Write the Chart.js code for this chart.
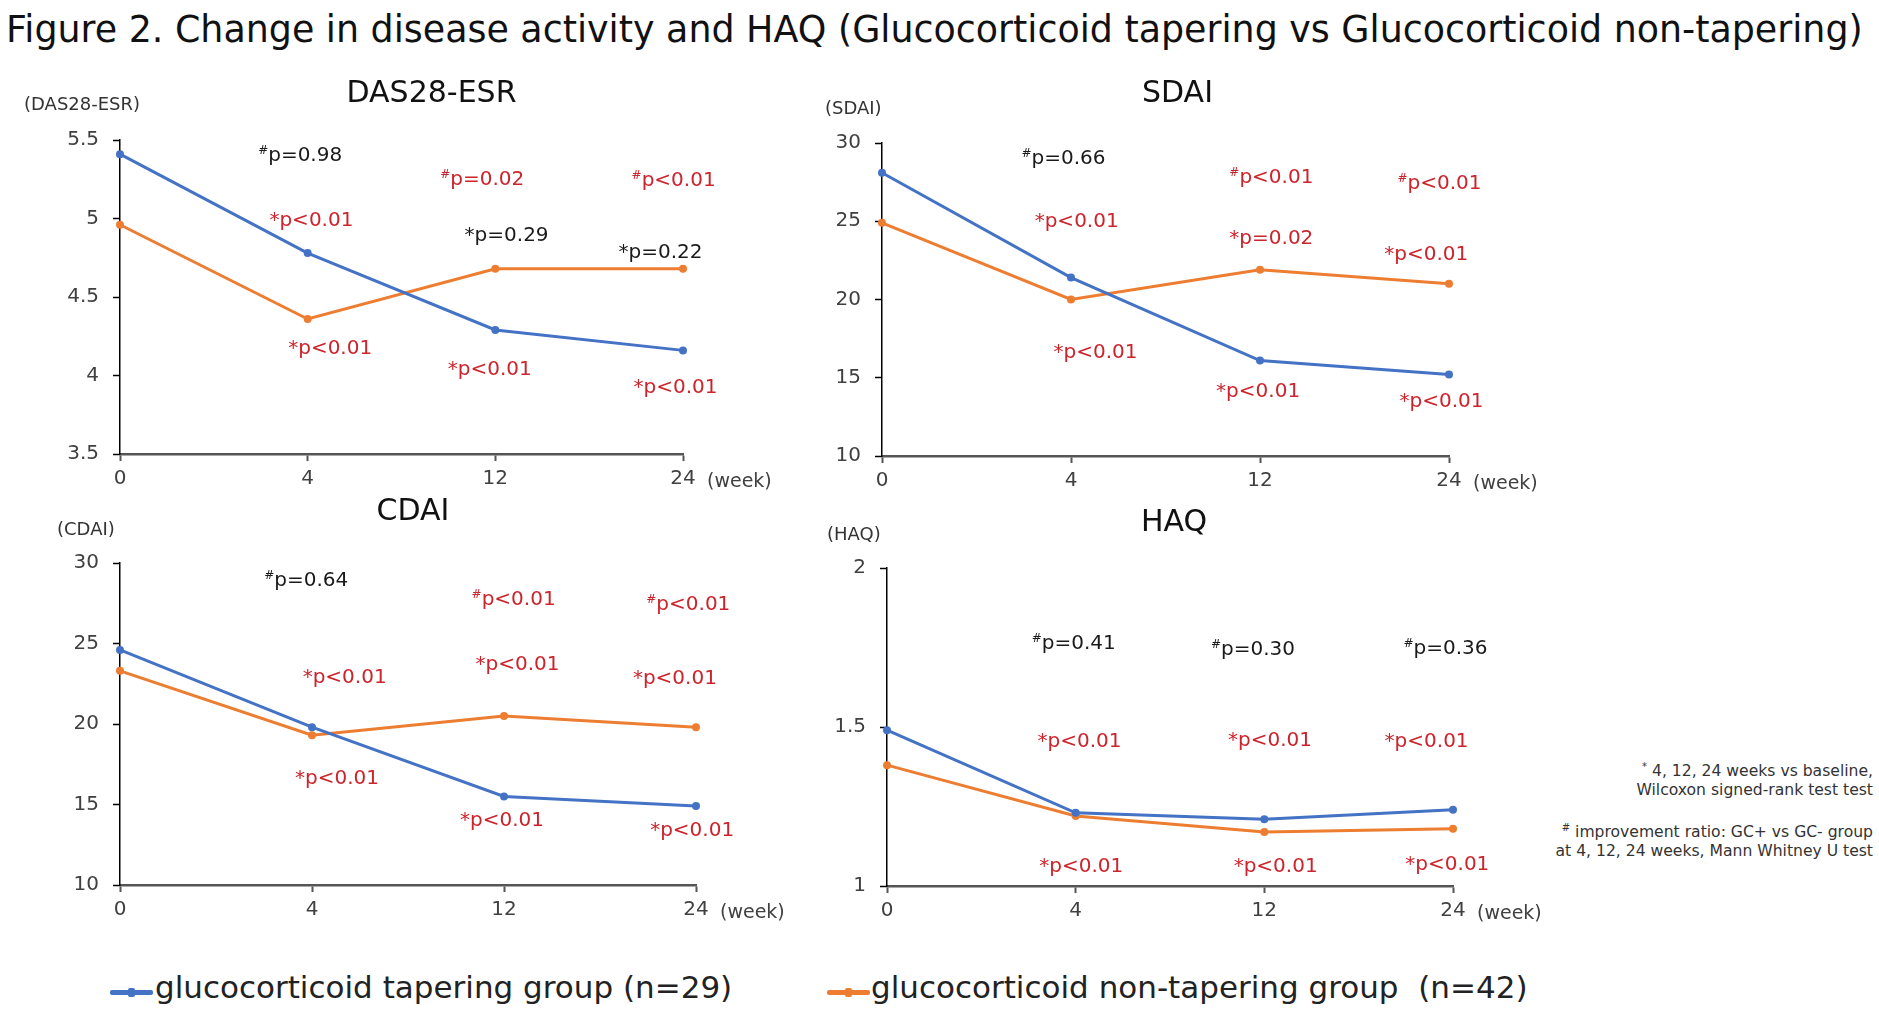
<!DOCTYPE html>
<html lang="en">
<head>
  <meta charset="UTF-8">
  <title>Figure 2 - disease activity and HAQ</title>
  <style>
body {
  margin: 0;
  background: #fff;
  font-family: "DejaVu Sans", sans-serif;
}

.page {
  position: relative;
  width: 1879px;
  height: 1023px;
  overflow: hidden;
}

.page canvas { position: absolute; }

.fig-title {
  position: absolute;
  left: 6px;
  top: 12px;
  font-size: 36.4px;
  line-height: 1;
  white-space: nowrap;
  color: #111;
}

.legend-item {
  position: absolute;
  top: 972px;
  font-size: 31px;
  line-height: 1;
  white-space: nowrap;
  color: #222;
}

.legend-mark {
  position: absolute;
  top: 990px;
  width: 43px;
  height: 5px;
  border-radius: 2px;
}
.legend-mark::after {
  content: "";
  position: absolute;
  left: 18px;
  top: -2px;
  width: 7px;
  height: 9px;
  background: inherit;
  border-radius: 2px;
}

.foot {
  position: absolute;
  right: 6px;
  top: 757px;
  font-size: 15.6px;
  line-height: 19px;
  text-align: right;
  color: #333;
}
.foot p { margin: 0 0 18px 0; }
.foot sup { font-size: 10px; }
  </style>
</head>
<body>

<div class="page" id="page">
  <div class="fig-title">Figure 2. Change in disease activity and HAQ (Glucocorticoid tapering vs Glucocorticoid non-tapering)</div>

  <div class="legend-mark" style="left:110px; background:#4472c4;"></div>
  <div class="legend-item" style="left:155px;">glucocorticoid tapering group (n=29)</div>
  <div class="legend-mark" style="left:827px; background:#ed7d31;"></div>
  <div class="legend-item" style="left:871px;">glucocorticoid non-tapering group&nbsp; (n=42)</div>

  <div class="foot">
    <p><sup>*</sup> 4, 12, 24 weeks vs baseline,<br>Wilcoxon signed-rank test test</p>
    <p><sup>#</sup> improvement ratio: GC+ vs GC- group<br>at 4, 12, 24 weeks, Mann Whitney U test</p>
  </div>
</div>

<script src="https://cdn.jsdelivr.net/npm/chart.js"></script>
<script>
// ---- data ----
const weeks = ['0', '4', '12', '24'];

const das28Taper    = [5.41, 4.78, 4.29, 4.16];
const das28NonTaper = [4.96, 4.36, 4.68, 4.68];
const das28Ticks    = [3.5, 4, 4.5, 5, 5.5];

const sdaiTaper    = [28.1, 21.4, 16.1, 15.2];
const sdaiNonTaper = [24.9, 20.0, 21.9, 21.0];
const sdaiTicks    = [10, 15, 20, 25, 30];

const cdaiTaper    = [24.6, 19.8, 15.5, 14.9];
const cdaiNonTaper = [23.3, 19.3, 20.5, 19.8];
const cdaiTicks    = [10, 15, 20, 25, 30];

const haqTaper    = [1.49, 1.23, 1.21, 1.24];
const haqNonTaper = [1.38, 1.22, 1.17, 1.18];
const haqTicks    = [1, 1.5, 2];

// p-value notes: [week index, value, text]
const das28Notes = [
  [0.96, 5.41, '#p=0.98'], [1.93, 5.26, '#p=0.02'], [2.95, 5.25, '#p<0.01'],
  [1.02, 5.00, '*p<0.01'], [2.06, 4.90, '*p=0.29'], [2.88, 4.79, '*p=0.22'],
  [1.12, 4.18, '*p<0.01'], [1.97, 4.05, '*p<0.01'], [2.96, 3.93, '*p<0.01']
];
const sdaiNotes = [
  [0.96, 29.1, '#p=0.66'], [2.06, 27.9, '#p<0.01'], [2.95, 27.5, '#p<0.01'],
  [1.03, 25.1, '*p<0.01'], [2.06, 24.0, '*p=0.02'], [2.88, 23.0, '*p<0.01'],
  [1.13, 16.7, '*p<0.01'], [1.99, 14.2, '*p<0.01'], [2.96, 13.6, '*p<0.01']
];
const cdaiNotes = [
  [0.97, 29.0, '#p=0.64'], [2.05, 27.8, '#p<0.01'], [2.96, 27.5, '#p<0.01'],
  [1.17, 23.0, '*p<0.01'], [2.07, 23.8, '*p<0.01'], [2.89, 22.9, '*p<0.01'],
  [1.13, 16.7, '*p<0.01'], [1.99, 14.1, '*p<0.01'], [2.98, 13.5, '*p<0.01']
];
const haqNotes = [
  [0.99, 1.766, '#p=0.41'], [1.94, 1.748, '#p=0.30'], [2.96, 1.753, '#p=0.36'],
  [1.02, 1.458, '*p<0.01'], [2.03, 1.462, '*p<0.01'], [2.86, 1.460, '*p<0.01'],
  [1.03, 1.066, '*p<0.01'], [2.06, 1.066, '*p<0.01'], [2.97, 1.073, '*p<0.01']
];

// ---- layout of the four panels (plot area in page pixels) ----
const panels = [
  { title: 'DAS28-ESR', unit: '(DAS28-ESR)', taper: das28Taper, non: das28NonTaper, ticks: das28Ticks, notes: das28Notes,
    area: { l: 120, t: 140, r: 683, b: 454 }, titleDx: 30, titleDy: -38, unitDx: -96, unitDy: -30 },
  { title: 'SDAI', unit: '(SDAI)', taper: sdaiTaper, non: sdaiNonTaper, ticks: sdaiTicks, notes: sdaiNotes,
    area: { l: 882, t: 143, r: 1449, b: 456 }, titleDx: 12, titleDy: -41, unitDx: -57, unitDy: -29 },
  { title: 'CDAI', unit: '(CDAI)', taper: cdaiTaper, non: cdaiNonTaper, ticks: cdaiTicks, notes: cdaiNotes,
    area: { l: 120, t: 563, r: 696, b: 885 }, titleDx: 5, titleDy: -43, unitDx: -63, unitDy: -28 },
  { title: 'HAQ', unit: '(HAQ)', taper: haqTaper, non: haqNonTaper, ticks: haqTicks, notes: haqNotes,
    area: { l: 887, t: 568, r: 1453, b: 886 }, titleDx: 4, titleDy: -37, unitDx: -60, unitDy: -28 }
];

const BLUE = '#4472c4';
const ORANGE = '#ed7d31';
const RED = '#cc242c';
const BLACK = '#1a1a1a';
const FONT = '"DejaVu Sans", sans-serif';

const PAD_LEFT = 120, PAD_TOP = 110, PAD_RIGHT = 120, PAD_BOTTOM = 50;

// titles, unit label, "(week)" and the p-value notes
function panelText(p) {
  return {
    id: 'panelText',
    afterDatasetsDraw(chart) {
      const { ctx, chartArea: a, scales: { x, y } } = chart;
      ctx.save();
      ctx.textBaseline = 'alphabetic';

      ctx.fillStyle = '#111';
      ctx.font = '30px ' + FONT;
      ctx.textAlign = 'center';
      ctx.fillText(p.title, (a.left + a.right) / 2 + p.titleDx, a.top + p.titleDy);

      ctx.fillStyle = '#333';
      ctx.font = '18px ' + FONT;
      ctx.textAlign = 'left';
      ctx.fillText(p.unit, a.left + p.unitDx, a.top + p.unitDy);

      ctx.fillStyle = '#404040';
      ctx.font = '19px ' + FONT;
      ctx.textBaseline = 'middle';
      ctx.fillText('(week)', x.getPixelForValue(3) + 24, a.bottom + 28);

      ctx.textBaseline = 'alphabetic';
      ctx.textAlign = 'left';
      p.notes.forEach(([xi, v, txt]) => {
        const px = x.getPixelForValue(xi);
        const py = y.getPixelForValue(v);
        const mark = txt[0], rest = txt.slice(1);
        const small = mark === '#';
        ctx.font = (small ? '12px ' : '20px ') + FONT;
        const mw = ctx.measureText(mark).width;
        ctx.font = '20px ' + FONT;
        const rw = ctx.measureText(rest).width;
        const x0 = px - (mw + rw) / 2;
        const base = py + 7;
        ctx.fillStyle = /<|=0\.0/.test(rest) ? RED : BLACK;
        ctx.fillText(rest, x0 + mw, base);
        ctx.font = (small ? '12px ' : '20px ') + FONT;
        ctx.fillText(mark, x0, small ? base - 7 : base);
      });
      ctx.restore();
    }
  };
}

const page = document.getElementById('page');

panels.forEach(p => {
  const a = p.area;
  const w = (a.r - a.l) + PAD_LEFT + PAD_RIGHT;
  const h = (a.b - a.t) + PAD_TOP + PAD_BOTTOM;
  const cv = document.createElement('canvas');
  cv.width = w;
  cv.height = h;
  cv.style.left = (a.l - PAD_LEFT) + 'px';
  cv.style.top = (a.t - PAD_TOP) + 'px';
  cv.style.width = w + 'px';
  cv.style.height = h + 'px';
  page.appendChild(cv);

  const line = (data, color) => ({
    data: data,
    borderColor: color,
    backgroundColor: color,
    borderWidth: 3,
    pointRadius: 2.5,
    pointHoverRadius: 2.5,
    tension: 0,
    clip: false
  });

  new Chart(cv, {
    type: 'line',
    data: {
      labels: weeks,
      datasets: [line(p.taper, BLUE), line(p.non, ORANGE)]
    },
    options: {
      responsive: false,
      animation: false,
      devicePixelRatio: 1,
      layout: { padding: { left: 0, top: PAD_TOP, right: PAD_RIGHT, bottom: 0 } },
      plugins: { legend: { display: false }, tooltip: { enabled: false } },
      scales: {
        x: {
          offset: false,
          afterFit: s => { s.height = PAD_BOTTOM; },
          border: { color: '#555', width: 2.5 },
          grid: { drawOnChartArea: false, drawTicks: true, tickLength: 7, tickColor: '#555', tickWidth: 2 },
          ticks: { color: '#404040', font: { family: FONT, size: 20 }, padding: 6, maxRotation: 0 }
        },
        y: {
          min: p.ticks[0],
          max: p.ticks[p.ticks.length - 1],
          afterFit: s => { s.width = PAD_LEFT; },
          afterBuildTicks: s => { s.ticks = p.ticks.map(v => ({ value: v })); },
          border: { color: '#000', width: 1.5 },
          grid: { drawOnChartArea: false, drawTicks: true, tickLength: 7, tickColor: '#000', tickWidth: 1.5 },
          ticks: { color: '#404040', font: { family: FONT, size: 20 }, padding: 14, callback: v => String(v) }
        }
      }
    },
    plugins: [panelText(p)]
  });
});
</script>

</body>
</html>
